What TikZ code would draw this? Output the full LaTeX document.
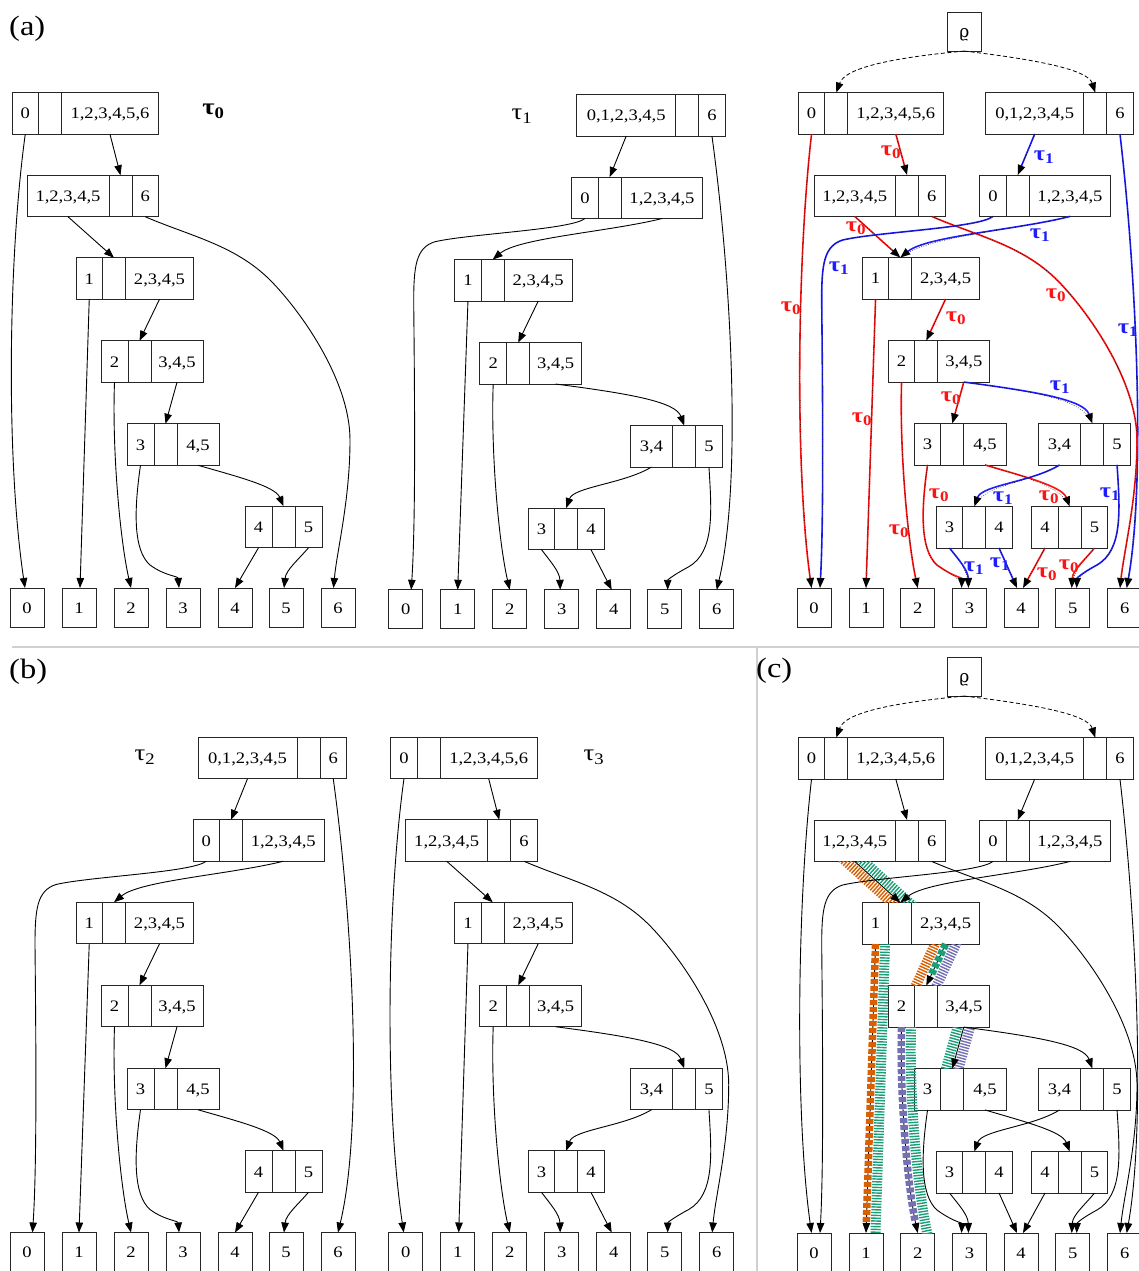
\documentclass[tikz,border=0pt]{standalone}
\usepackage{fontspec}
\setmainfont{Liberation Serif}[FakeStretch=1.16]
\newfontfamily\rhofont{DejaVu Serif}
\usetikzlibrary{arrows.meta,calc}

\definecolor{tzero}{RGB}{250,20,20}
\definecolor{tone}{RGB}{30,30,250}
\definecolor{bandorange}{HTML}{D95F02}
\definecolor{bandgreen}{HTML}{1B9E77}
\definecolor{bandpurple}{HTML}{7570B3}
\definecolor{rulegray}{RGB}{208,208,208}

\tikzset{
  fld/.style={draw=black!85, line width=0.9pt, minimum height=41.5pt, inner sep=0pt,
    outer sep=0pt, text height=11pt, text depth=0pt, font=\fontsize{16}{18}\selectfont},
  leaf/.style={fld, minimum width=34pt, minimum height=39pt},
  edge/.style={draw=black, line width=0.9pt, -{Triangle[length=10pt,width=7.5pt]}},
  e0/.style={draw=tzero, line width=1.6pt, -{Triangle[length=10pt,width=7.5pt,color=black]},
    postaction={draw=black, -, line width=0.45pt, dash pattern=on 0.8pt off 1.6pt}},
  e1/.style={draw=tone, line width=1.6pt, -{Triangle[length=10pt,width=7.5pt,color=black]},
    postaction={draw=black, -, line width=0.45pt, dash pattern=on 0.8pt off 1.6pt}},
  rhoedge/.style={draw=black, line width=0.8pt, dash pattern=on 4pt off 2.5pt,
    -{Triangle[length=10pt,width=7.5pt]}},
  lab0/.style={text=tzero, inner sep=0pt, font=\fontsize{21}{23}\selectfont\bfseries},
  lab1/.style={text=tone, inner sep=0pt, font=\fontsize{21}{23}\selectfont\bfseries},
  title/.style={inner sep=0pt, font=\fontsize{23}{25}\selectfont},
  panel/.style={inner sep=0pt, anchor=west, font=\fontsize{28}{30}\selectfont},
  hatch/.style={line width=10pt, dash pattern=on 1.4pt off 1.4pt},
  blocks/.style={line width=7.5pt, dash pattern=on 5pt off 2pt},
}

% three-field record: name, west point, width/text of left field, width/text of right field
\newcommand\rec[6]{%
  \node[fld, anchor=west, minimum width=#3pt] (#1l) at (#2) {#4};
  \node[fld, anchor=west, minimum width=23pt] (#1m) at (#1l.east) {};
  \node[fld, anchor=west, minimum width=#5pt] (#1r) at (#1m.east) {#6};}

% ---------- single trees ----------
\newcommand\tauZeroTop{%
  \rec{r0}{12,113.5}{26.5}{0}{97}{1,2,3,4,5,6}
  \rec{r1}{27,196}{82}{1,2,3,4,5}{26.5}{6}
  \rec{r2}{76,278.5}{26.5}{1}{68}{2,3,4,5}}
\newcommand\tauOneTop{%
  \rec{s0}{198,113.5}{99}{0,1,2,3,4,5}{26.5}{6}
  \rec{s1}{193,196}{26.5}{0}{81.5}{1,2,3,4,5}
  \rec{r2}{76,278.5}{26.5}{1}{68}{2,3,4,5}}
\newcommand\tauZeroBottom{%
  \rec{r3}{101,361.5}{27}{2}{52}{3,4,5}
  \rec{r4}{127,444.5}{27}{3}{42}{4,5}
  \rec{r5}{245,527}{27}{4}{27}{5}}
\newcommand\tauOneBottom{%
  \rec{r3}{101,361.5}{27}{2}{52}{3,4,5}
  \rec{s4}{251.5,444.5}{42.5}{3,4}{26.5}{5}
  \rec{s5}{149.5,527}{26.5}{3}{26.5}{4}}
\newcommand\leafRow{%
  \foreach \i/\x in {0/27,1/79,2/131,3/183,4/235,5/286,6/338}
    \node[leaf] (l\i) at (\x,607.5) {\i};}

\newcommand\tauZeroTopEdges{%
  \draw[edge] (r0l.south) .. controls (8,260) and (6,460) .. ([xshift=-2pt]l0.north);
  \draw[edge] (r0r.south) -- (r1m.north);
  \draw[edge] (r1l.south) -- (r2m.north);
  \draw[edge] (r1r.south) .. controls (190,236) and (235,245) .. (270,280)
     .. controls (300,310) and (350,380) .. (350,440)
     .. controls (350,500) and (337,550) .. ([xshift=-4.5pt]l6.north);
  \draw[edge] (r2l.south) -- ([xshift=1pt]l1.north);
  \draw[edge] (r2r.south) -- (r3m.north);}
\newcommand\tauOneTopEdges{%
  \draw[edge] (s0l.south) -- (s1m.north);
  \draw[edge] (s0r.south) .. controls (352,270) and (364,480) .. (l6.north);
  \draw[edge] (s1l.south) .. controls (192,228) and (90,232) .. (56,240)
     .. controls (37,246) and (35,265) .. (35,300)
     .. controls (36,400) and (37,520) .. ([xshift=5.5pt]l0.north);
  \draw[edge] (s1r.south) .. controls (230,230) and (140,236) .. (r2m.north);
  \draw[edge] (r2l.south) -- (l1.north);
  \draw[edge] (r2r.south) -- (r3m.north);}
\newcommand\tauZeroBottomEdges{%
  \draw[edge] (r3l.south) .. controls (112,450) and (120,540) .. (l2.north);
  \draw[edge] (r3r.south) -- (r4m.north);
  \draw[edge] (r4l.south) .. controls (134,510) and (133,550) .. (150,565)
     .. controls (165,576) and (178,576) .. ([xshift=-4pt]l3.north);
  \draw[edge] (r4r.south) .. controls (235,476) and (275,486) .. (r5m.north);
  \draw[edge] (r5l.south) -- (l4.north);
  \draw[edge] (r5r.south) .. controls (298,560) and (286,570) .. ([xshift=-2pt]l5.north);}
\newcommand\tauOneBottomEdges{%
  \draw[edge] (r3l.south) .. controls (112,450) and (120,540) .. (l2.north);
  \draw[edge] (r3r.south) .. controls (252,392) and (297,400) .. (s4m.north);
  \draw[edge] (s4l.south) .. controls (245,482) and (195,485) .. (s5m.north);
  \draw[edge] (s4r.south) .. controls (333,510) and (336,550) .. (310,565)
     .. controls (295,573) and (289,578) .. ([xshift=3pt]l5.north);
  \draw[edge] (s5l.south) .. controls (172,560) and (181,570) .. ([xshift=-1.5pt]l3.north);
  \draw[edge] (s5r.south) -- ([xshift=-2pt]l4.north);}

% ---------- merged graph ----------
\newcommand\combNodes{%
  \node[fld, minimum width=33.5pt, minimum height=38.5pt,
        font=\rhofont\fontsize{17}{18}\selectfont] (rho) at (964.3,31.8) {ϱ};
  \rec{c0a}{798.3,113.3}{26.5}{0}{96}{1,2,3,4,5,6}
  \rec{c0b}{985.7,113.3}{98}{0,1,2,3,4,5}{26.5}{6}
  \rec{c1a}{814,195.7}{81.5}{1,2,3,4,5}{26.5}{6}
  \rec{c1b}{979.7,195.7}{26.5}{0}{81.5}{1,2,3,4,5}
  \rec{c2}{862.3,278.3}{26.5}{1}{67.5}{2,3,4,5}
  \rec{c3}{888.3,361.3}{26.5}{2}{52}{3,4,5}
  \rec{c4a}{914.3,444.2}{26.5}{3}{42.5}{4,5}
  \rec{c4b}{1038.3,444.2}{42.5}{3,4}{26.5}{5}
  \rec{c5a}{936.3,527.3}{26.5}{3}{26.5}{4}
  \rec{c5b}{1031.7,527.3}{26.5}{4}{26.5}{5}
  \foreach \i/\x in {0/814,1/866,2/917.7,3/969.5,4/1021,5/1072.7,6/1124.7}
    \node[leaf] (k\i) at (\x,607.5) {\i};}

% #1: style of the tau_0 edges, #2: style of the tau_1 edges
\newcommand\combEdges[2]{%
  \draw[#1] (c0al.south) .. controls (797,260) and (795,470) .. ([xshift=-2.5pt]k0.north);
  \draw[#1] (c0ar.south) -- (c1am.north);
  \draw[#2] (c0bl.south) -- (c1bm.north);
  \draw[#2] (c0br.south) .. controls (1136,270) and (1146,480) .. ([xshift=2pt]k6.north);
  \draw[#1] (c1al.south) -- (c2m.north);
  \draw[#1] (c1ar.south) .. controls (977,236) and (1022,245) .. (1057,280)
     .. controls (1087,310) and (1137,380) .. (1137,440)
     .. controls (1137,500) and (1124,550) .. ([xshift=-4.7pt]k6.north);
  \draw[#2] (c1bl.south) .. controls (978.7,228) and (876.7,232) .. (842.7,240)
     .. controls (823.7,246) and (821.7,265) .. (821.7,300)
     .. controls (822.7,400) and (823.7,520) .. ([xshift=6pt]k0.north);
  \draw[#2] (c1br.south) .. controls (1016.7,230) and (926.7,236) .. (c2m.north);
  \draw[#1] (c2l.south) -- (k1.north);
  \draw[#1] (c2r.south) -- (c3m.north);
  \draw[#1] (c3l.south) .. controls (899.5,450) and (907.5,540) .. (k2.north);
  \draw[#1] (c3r.south) -- (c4am.north);
  \draw[#2] (c3r.south) .. controls (1039,392) and (1084,400) .. (c4bm.north);
  \draw[#1] (c4al.south) .. controls (921,510) and (920,550) .. (937,565)
     .. controls (952,576) and (962,578) .. ([xshift=-8pt]k3.north);
  \draw[#1] (c4ar.south) .. controls (1022,476) and (1062,486) .. (c5bm.north);
  \draw[#2] (c4bl.south) .. controls (1032,482) and (982,485) .. (c5am.north);
  \draw[#2] (c4br.south) .. controls (1120,510) and (1123,550) .. (1097,565)
     .. controls (1082,573) and (1077,578) .. ([xshift=4pt]k5.north);
  \draw[#2] (c5al.south) .. controls (959,560) and (968,570) .. ([xshift=-1pt]k3.north);
  \draw[#2] (c5ar.south) -- ([xshift=-4pt]k4.north);
  \draw[#1] (c5bl.south) -- ([xshift=2pt]k4.north);
  \draw[#1] (c5br.south) .. controls (1084.7,560) and (1072.7,570) .. ([xshift=-1pt]k5.north);
  \draw[rhoedge] (rho.south) .. controls (890,58) and (845,68) .. (c0am.north);
  \draw[rhoedge] (rho.south) .. controls (1040,60) and (1088,70) .. (c0bm.north);}

\begin{document}
\begin{tikzpicture}[x=1pt, y=-1pt]
\useasboundingbox (0,0) rectangle (1139,1271);
\fill[white] (0,0) rectangle (1139,1271);

% panel rules and labels
\draw[rulegray, line width=1.2pt] (12,647) -- (1139,647);
\draw[rulegray, line width=1.2pt] (757,647) -- (757,1271);
\node[panel] (pa) at (9,28.5) {(a)};
\node[panel] (pb) at (9,672) {(b)};
\node[panel] (pc) at (756,671) {(c)};
\node[title, font=\fontsize{23}{25}\selectfont\bfseries] (ta) at (213.5,111) {τ\textsubscript{0}};
\node[title] (tb) at (522,116) {τ\textsubscript{1}};
\node[title] (tc) at (145,757) {τ\textsubscript{2}};
\node[title] (td) at (594,757) {τ\textsubscript{3}};

% (a) tau_0
\begin{scope}[name prefix=a0-]
  \tauZeroTop \tauZeroBottom \leafRow
  \tauZeroTopEdges \tauZeroBottomEdges
\end{scope}

% (a) tau_1
\begin{scope}[shift={(378.7,1.8)}, name prefix=a1-]
  \tauOneTop \tauOneBottom \leafRow
  \tauOneTopEdges \tauOneBottomEdges
\end{scope}

% (a) merged graph with coloured edges
\begin{scope}[name prefix=am-]
  \combNodes
  \combEdges{e0}{e1}
  \node[lab0] (m1) at (791,308) {τ\textsubscript{0}};
  \node[lab0] (m2) at (891,152) {τ\textsubscript{0}};
  \node[lab0] (m3) at (856,228) {τ\textsubscript{0}};
  \node[lab0] (m4) at (1056,295) {τ\textsubscript{0}};
  \node[lab0] (m5) at (862,419) {τ\textsubscript{0}};
  \node[lab0] (m6) at (956,318) {τ\textsubscript{0}};
  \node[lab0] (m7) at (899,531) {τ\textsubscript{0}};
  \node[lab0] (m8) at (951,398) {τ\textsubscript{0}};
  \node[lab0] (m9) at (939,495) {τ\textsubscript{0}};
  \node[lab0] (m10) at (1049,497) {τ\textsubscript{0}};
  \node[lab0] (m11) at (1047,574) {τ\textsubscript{0}};
  \node[lab0] (m12) at (1069,566) {τ\textsubscript{0}};
  \node[lab1] (n1) at (1044,157) {τ\textsubscript{1}};
  \node[lab1] (n2) at (1040,235) {τ\textsubscript{1}};
  \node[lab1] (n3) at (839,268) {τ\textsubscript{1}};
  \node[lab1] (n4) at (1128,330) {τ\textsubscript{1}};
  \node[lab1] (n5) at (1060,387) {τ\textsubscript{1}};
  \node[lab1] (n6) at (1003,498) {τ\textsubscript{1}};
  \node[lab1] (n7) at (1110,494) {τ\textsubscript{1}};
  \node[lab1] (n8) at (974,568) {τ\textsubscript{1}};
  \node[lab1] (n9) at (1000,564) {τ\textsubscript{1}};
\end{scope}

% (b) tau_2
\begin{scope}[shift={(0,644.5)}, name prefix=b2-]
  \tauOneTop \tauZeroBottom \leafRow
  \tauOneTopEdges \tauZeroBottomEdges
\end{scope}

% (b) tau_3
\begin{scope}[shift={(378.7,644.5)}, name prefix=b3-]
  \tauZeroTop \tauOneBottom \leafRow
  \tauZeroTopEdges \tauOneBottomEdges
\end{scope}

% (c) merged graph with highlighted shared edges
\begin{scope}[shift={(0,645)}, name prefix=cm-]
  \combNodes
  \begin{scope}
    \clip ($(c1al.south)+(-80,0)$) rectangle ($(c2m.north)+(80,0)$);
    \draw[hatch, draw=bandorange, shorten <=-12pt, shorten >=-12pt]
      ($(c1al.south)+(-4,4.5)$) -- ($(c2m.north)+(-4,4.5)$);
    \draw[hatch, draw=bandgreen, shorten <=-12pt, shorten >=-12pt]
      ($(c1al.south)+(4,-4.5)$) -- ($(c2m.north)+(4,-4.5)$);
  \end{scope}
  \begin{scope}
    \clip ($(c2l.south)+(-60,0)$) rectangle ($(k1.north)+(60,0)$);
    \draw[hatch, draw=bandgreen, shorten <=-12pt, shorten >=-12pt]
      ($(c2l.south)+(9.5,0)$) -- ($(k1.north)+(9.5,0)$);
  \end{scope}
  \begin{scope}
    \clip ($(c2r.south)+(-60,0)$) rectangle ($(c3m.north)+(60,0)$);
    \draw[hatch, draw=bandorange, shorten <=-12pt, shorten >=-12pt]
      ($(c2r.south)+(-8.6,-4)$) -- ($(c3m.north)+(-8.6,-4)$);
    \draw[hatch, draw=bandpurple, shorten <=-12pt, shorten >=-12pt]
      ($(c2r.south)+(8.6,4)$) -- ($(c3m.north)+(8.6,4)$);
  \end{scope}
  \begin{scope}
    \clip ($(c3l.south)+(-60,0)$) rectangle ($(k2.north)+(60,0)$);
    \draw[hatch, draw=bandgreen]
      ($(c3l.south)+(9.5,-6)$) -- ($(c3l.south)+(9.5,0)$)
      .. controls (909,450) and (917,540) .. ($(k2.north)+(9.5,0)$) -- ($(k2.north)+(9.5,6)$);
  \end{scope}
  \begin{scope}
    \clip ($(c3r.south)+(-60,0)$) rectangle ($(c4am.north)+(60,0)$);
    \draw[hatch, draw=bandgreen, shorten <=-12pt, shorten >=-12pt]
      ($(c3r.south)+(-5.8,-1.6)$) -- ($(c4am.north)+(-5.8,-1.6)$);
    \draw[hatch, draw=bandpurple, shorten <=-12pt, shorten >=-12pt]
      ($(c3r.south)+(5.8,1.6)$) -- ($(c4am.north)+(5.8,1.6)$);
  \end{scope}
  \combEdges{edge}{edge}
  \draw[blocks, draw=bandorange, shorten >=11pt] (c2l.south) -- (k1.north);
  \draw[blocks, draw=bandgreen, shorten >=11pt] (c2r.south) -- (c3m.north);
  \draw[blocks, draw=bandpurple, shorten >=11pt]
    (c3l.south) .. controls (899.5,450) and (907.5,540) .. (k2.north);
\end{scope}
\end{tikzpicture}
\end{document}
